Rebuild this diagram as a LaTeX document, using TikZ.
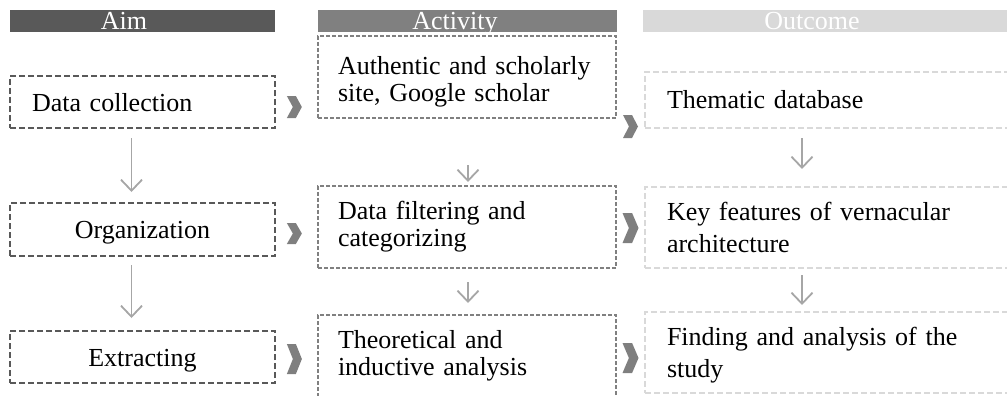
\documentclass[tikz,border=0pt]{standalone}
\usepackage{fontspec}
\setmainfont{Liberation Serif}
\usetikzlibrary{arrows.meta,calc}

\definecolor{aimgray}{HTML}{595959}
\definecolor{actgray}{HTML}{808080}
\definecolor{outgray}{HTML}{D9D9D9}
\definecolor{arrowgray}{HTML}{A6A6A6}
\definecolor{chevgray}{HTML}{7F7F7F}

\tikzset{
  chevron/.pic={
    \fill[chevgray] (-0.5,-0.5) -- (0.1,-0.5) -- (0.5,0) -- (0.1,0.5)
      -- (-0.5,0.5) -- (-0.1,0) -- cycle;
  }
}

\begin{document}
\begin{tikzpicture}[x=1pt,y=-1pt,
  every node/.style={font=\fontsize{26}{27}\selectfont, inner sep=0pt, outer sep=0pt},
  headtext/.style={anchor=base, text=white},
  aimbox/.style={rectangle, draw=aimgray, line width=1.5pt, dash pattern=on 6pt off 3pt,
    minimum width=265pt, inner xsep=22pt, text width=221pt, text height=18pt, text depth=0pt},
  actbox/.style={rectangle, draw=actgray, line width=1.3pt, dash pattern=on 4pt off 2pt,
    minimum width=298pt, minimum height=82pt, inner xsep=20pt, text width=258pt, align=left},
  outbox/.style={rectangle, draw=outgray, line width=1.3pt, dash pattern=on 6pt off 3pt,
    minimum width=375pt, inner xsep=22pt, text width=331pt, align=left,
    font=\fontsize{26}{32}\selectfont},
  varrow/.style={draw=arrowgray, line width=1.8pt,
    -{Straight Barb[length=11pt,width=21pt]}}
]
\useasboundingbox (0,0) rectangle (1007,396);
\clip (0,0) rectangle (1007,396);

% column headers
\fill[aimgray] (10,10.5) rectangle (275,32);
\fill[actgray] (318,10.5) rectangle (617,32);
\fill[outgray] (643,10.5) rectangle (1007,32);
\node[headtext] (hAim) at (124,29.5) {Aim};
\node[headtext] (hAct) at (455,29.5) {Activity};
\node[headtext] (hOut) at (812,29.5) {Outcome};

% aim column
\node[aimbox, minimum height=52pt, align=left] (a1) at (142.5,102) {Data collection};
\node[aimbox, minimum height=53pt, align=center] (a2) at (142.5,229.5) {Organization};
\node[aimbox, minimum height=52pt, align=center] (a3) at (142.5,357) {Extracting};

% activity column
\node[actbox] (b1) at (467,77) {\rule{0pt}{27pt}Authentic and scholarly\\site, Google scholar};
\node[actbox] (b2) at (467,227) {Data filtering and\\categorizing};
\node[actbox] (b3) at (467,356) {Theoretical and\\inductive analysis};

% outcome column
\node[outbox, minimum height=56pt, text height=18pt, text depth=0pt] (c1) at (832.5,100) {Thematic database};
\node[outbox, minimum height=81pt] (c2) at (832.5,227.5) {Key features of vernacular\\architecture};
\node[outbox, minimum height=81pt] (c3) at (832.5,352.5) {\rule{0pt}{23pt}Finding and analysis of the\\study};

% downward arrows
\draw[varrow] ($(a1.south)+(-11,10)$) -- ($(a2.north)+(-11,-11)$);
\draw[varrow] ($(a2.south)+(-11,9)$) -- ($(a3.north)+(-11,-13)$);
\draw[varrow] ($(b1.south)+(1,47)$) -- ($(b2.north)+(1,-4)$);
\draw[varrow] ($(b2.south)+(1,14)$) -- ($(b3.north)+(1,-12)$);
\draw[varrow] ($(c1.south)+(-30.5,10)$) -- ($(c2.north)+(-30.5,-18)$);
\draw[varrow] ($(c2.south)+(-30.5,7)$) -- ($(c3.north)+(-30.5,-7)$);

% chevrons between columns
\coordinate (m1) at ($(a1.east)!.45!(b1.west)$);
\coordinate (m2) at ($(a2.east)!.45!(b2.west)$);
\coordinate (m3) at ($(a3.east)!.45!(b3.west)$);
\coordinate (n1) at ($(b1.east)!.5!(c1.west)$);
\coordinate (n2) at ($(b2.east)!.5!(c2.west)$);
\coordinate (n3) at ($(b3.east)!.5!(c3.west)$);
\pic[xscale=15,yscale=22] at (m1 |- 0,107) {chevron};
\pic[xscale=15,yscale=21] at (m2 |- 0,233.5) {chevron};
\pic[xscale=15,yscale=30] at (m3 |- 0,359) {chevron};
\pic[xscale=15,yscale=23] at (n1 |- 0,126.5) {chevron};
\pic[xscale=16,yscale=30] at (n2 |- 0,228) {chevron};
\pic[xscale=16,yscale=30] at (n3 |- 0,358) {chevron};
\end{tikzpicture}
\end{document}
